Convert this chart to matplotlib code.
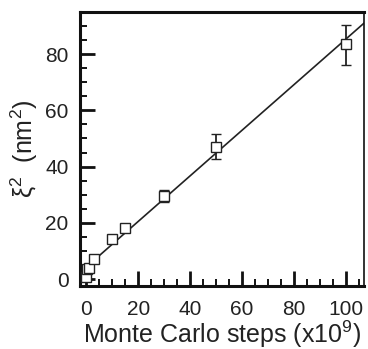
import matplotlib
matplotlib.use("Agg")
import matplotlib.pyplot as plt
import numpy as np
from matplotlib.ticker import MultipleLocator

plt.rcParams['font.family'] = ['Liberation Sans', 'DejaVu Sans']
plt.rcParams['mathtext.fontset'] = 'custom'
plt.rcParams['mathtext.rm'] = 'Liberation Sans'
plt.rcParams['mathtext.it'] = 'Liberation Sans:italic'

# data
steps = [0, 0.3, 1, 3, 10, 15, 30, 50, 100]
xi2 = [0.8, 3.5, 4.0, 7.0, 14.2, 18.2, 29.5, 47.0, 83.5]
err_lo = [0, 0, 0, 0, 0, 0, 2.0, 4.3, 7.5]
err_hi = [0, 0, 0, 0, 0, 0, 2.0, 4.5, 7.0]
fit_intercept = 4.3
fit_slope = 0.81

fig = plt.figure(figsize=(3.68, 3.49), dpi=100)
ax = fig.add_axes([0.217, 0.181, 0.772, 0.785])

xl = (-2.5, 107)
fx = np.array(xl)
ax.plot(fx, fit_intercept + fit_slope * fx, color='#222222', lw=1.2, zorder=2)

ax.errorbar(steps, xi2, yerr=[err_lo, err_hi], fmt='s', mfc='white', mec='#222222',
            mew=1.0, ms=6.5, ecolor='#222222', elinewidth=1.3, capsize=3.5,
            capthick=1.3, zorder=3)

ax.set_xlim(*xl)
ax.set_ylim(-2.4, 95)
ax.xaxis.set_major_locator(MultipleLocator(20))
ax.xaxis.set_minor_locator(MultipleLocator(5))
ax.yaxis.set_major_locator(MultipleLocator(20))
ax.yaxis.set_minor_locator(MultipleLocator(5))
ax.tick_params(which='major', direction='in', length=11, width=2.0, labelsize=15,
               pad=8, color='#111111', labelcolor='#222222')
ax.tick_params(axis='x', which='major', pad=10)
ax.tick_params(which='minor', direction='in', length=5, width=1.4, color='#111111')
ax.tick_params(top=False, right=False, which='both')

for s in ['left', 'bottom', 'top']:
    ax.spines[s].set_linewidth(2.2)
    ax.spines[s].set_color('#111111')
ax.spines['right'].set_linewidth(1.2)
ax.spines['right'].set_color('#111111')

ax.set_xlabel(r'Monte Carlo steps (x10$^9$)', fontsize=18, color='#222222', labelpad=0)
ax.set_ylabel(r'ξ$^2$  (nm$^2$)', fontsize=18, color='#222222', labelpad=4)

fig.savefig('out.png', dpi=100)
